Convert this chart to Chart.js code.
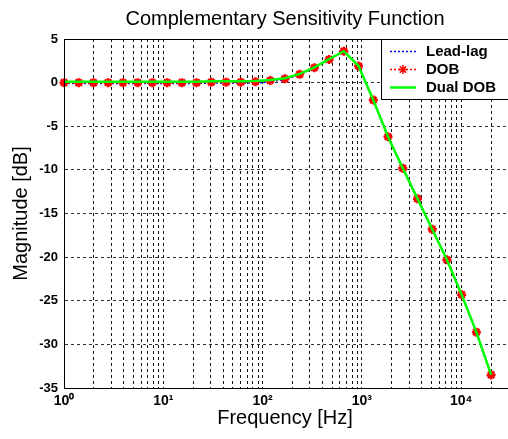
<!DOCTYPE html>
<html>
<head>
<meta charset="utf-8">
<script src="https://cdn.jsdelivr.net/npm/chart.js@4/dist/chart.umd.min.js"></script>
<style>
html, body { margin: 0; padding: 0; background: #fff; overflow: hidden; }
#wrap { width: 508px; height: 439px; overflow: hidden; }
</style>
</head>
<body>
<div id="wrap"><canvas id="tsChart" width="513" height="439"></canvas></div>
<script>
// frequencies [Hz] where the responses were evaluated
var freqs = [1, 1.407, 1.980, 2.786, 3.920, 5.515, 7.760, 10.92, 15.37, 21.62,
    30.42, 42.80, 60.22, 84.73, 119.2, 167.8, 236.1, 332.1, 467.3, 657.5,
    925.1, 1302, 1831, 2577, 3626, 5102, 7178, 10100, 14212, 20000];

// magnitudes [dB]
var leadLag = [-0.1, -0.1, -0.1, -0.1, -0.1, -0.1, -0.1, -0.1, -0.1, -0.1,
    -0.05, -0.05, -0.05, -0.05, 0.1, 0.35, 0.9, 1.7, 2.65, 3.6,
    1.9, -2.0, -6.2, -9.8, -13.3, -16.8, -20.3, -24.3, -28.6, -33.5];
var dob = [0, 0, 0, 0, 0, 0, 0, 0, 0, 0,
    0.05, 0.05, 0.05, 0.1, 0.25, 0.45, 0.95, 1.7, 2.65, 3.6,
    1.9, -2.0, -6.2, -9.8, -13.3, -16.8, -20.3, -24.3, -28.6, -33.5];
var dualDob = [0.1, 0.1, 0.1, 0.1, 0.1, 0.1, 0.1, 0.1, 0.1, 0.1,
    0.15, 0.15, 0.15, 0.2, 0.3, 0.5, 1.0, 1.75, 2.7, 3.6,
    1.9, -2.0, -6.2, -9.8, -13.3, -16.8, -20.3, -24.3, -28.6, -33.5];

var seriesNames = ['Lead-lag', 'DOB', 'Dual DOB'];
var decadeLabels = {1: '10\u2070', 10: '10\u00b9', 100: '10\u00b2', 1000: '10\u00b3', 10000: '10\u2074'};
var yTicks = [5, 0, -5, -10, -15, -20, -25, -30, -35];

function toPoints(values) {
    return values.map(function (v, i) { return { x: freqs[i], y: v }; });
}

// box round the axes + legend in the upper right corner
var frameAndLegend = {
    id: 'frameAndLegend',
    afterDraw: function (chart) {
        var ctx = chart.ctx;
        var a = chart.chartArea;
        ctx.save();
        ctx.strokeStyle = '#000';
        ctx.lineWidth = 1;
        ctx.setLineDash([]);
        ctx.strokeRect(a.left + 0.5, a.top + 0.5, a.right - a.left + 4, a.bottom - a.top);

        var bx = 381, by = a.top, bw = 140, bh = 60;
        ctx.fillStyle = '#fff';
        ctx.fillRect(bx, by, bw, bh);
        ctx.strokeRect(bx + 0.5, by + 0.5, bw, bh);

        var rows = [by + 12, by + 30, by + 48];
        ctx.font = 'bold 15px "Liberation Sans", Arial, sans-serif';
        ctx.textBaseline = 'middle';
        chart.data.datasets.forEach(function (ds, i) {
            var y = rows[i];
            ctx.strokeStyle = ds.borderColor;
            ctx.lineWidth = ds.borderWidth;
            ctx.setLineDash(ds.borderDash || []);
            ctx.beginPath();
            ctx.moveTo(390, y + 0.5);
            ctx.lineTo(416, y + 0.5);
            ctx.stroke();
            ctx.setLineDash([]);
            if (ds.pointRadius > 0) {
                Chart.helpers.drawPoint(ctx, {
                    pointStyle: ds.pointStyle, radius: ds.pointRadius,
                    borderWidth: ds.pointBorderWidth, rotation: 0
                }, 403, y + 0.5);
            }
            ctx.fillStyle = '#000';
            ctx.fillText(ds.label, 426, y + 1);
        });
        ctx.restore();
    }
};

var tsChart = new Chart(document.getElementById('tsChart').getContext('2d'), {
    type: 'line',
    data: {
        datasets: [{
            label: seriesNames[0],
            data: toPoints(leadLag),
            borderColor: '#0000ff',
            borderWidth: 1.5,
            borderDash: [2, 2],
            pointRadius: 0,
            order: 2
        }, {
            label: seriesNames[1],
            data: toPoints(dob),
            borderColor: '#ff0000',
            backgroundColor: '#ff0000',
            borderWidth: 1.5,
            borderDash: [2, 2],
            pointStyle: 'star',
            pointRadius: 4.5,
            pointBorderWidth: 2.5,
            pointBorderColor: '#ff0000',
            clip: false,
            order: 1
        }, {
            label: seriesNames[2],
            data: toPoints(dualDob),
            borderColor: '#00ff00',
            borderWidth: 2.5,
            pointRadius: 0,
            order: 0
        }]
    },
    options: {
        responsive: false,
        animation: false,
        layout: { padding: 0 },
        plugins: {
            legend: { display: false },
            tooltip: { enabled: false },
            title: {
                display: true,
                fullSize: false,
                text: 'Complementary Sensitivity Function',
                color: '#000',
                font: { family: '"Liberation Sans", Arial, sans-serif', size: 20, weight: 'normal' },
                padding: { top: 7, bottom: 8 }
            }
        },
        scales: {
            x: {
                type: 'logarithmic',
                min: 1,
                max: 28250,
                afterFit: function (scale) { scale.height = 51; },
                afterBuildTicks: function (scale) {
                    var t = [];
                    for (var d = 1; d <= 10000; d *= 10) {
                        for (var m = 1; m <= 9; m++) {
                            if (m * d <= scale.max) t.push({ value: m * d });
                        }
                    }
                    scale.ticks = t;
                },
                ticks: {
                    autoSkip: false,
                    maxRotation: 0,
                    padding: 5,
                    color: '#000',
                    font: { family: '"Liberation Sans", Arial, sans-serif', size: 14, weight: 'bold' },
                    callback: function (v) { return decadeLabels[v] || ''; }
                },
                grid: {
                    color: '#111',
                    lineWidth: 1,
                    drawTicks: false
                },
                border: { display: true, color: '#000', dash: [3, 3] },
                title: {
                    display: true,
                    text: 'Frequency [Hz]',
                    color: '#000',
                    font: { family: '"Liberation Sans", Arial, sans-serif', size: 20, weight: 'normal' },
                    padding: { top: 0, bottom: 9 }
                }
            },
            y: {
                min: -35,
                max: 5,
                afterFit: function (scale) { scale.width = 64; },
                afterBuildTicks: function (scale) {
                    scale.ticks = yTicks.map(function (v) { return { value: v }; });
                },
                ticks: {
                    padding: 6,
                    color: '#000',
                    font: { family: '"Liberation Sans", Arial, sans-serif', size: 13, weight: 'bold' },
                    callback: function (v) { return String(v); }
                },
                grid: {
                    color: '#333',
                    lineWidth: 1,
                    drawTicks: false
                },
                border: { display: true, color: '#000', dash: [3, 3] },
                title: {
                    display: true,
                    text: 'Magnitude [dB]',
                    color: '#000',
                    font: { family: '"Liberation Sans", Arial, sans-serif', size: 20, weight: 'normal' },
                    padding: { top: 9, bottom: 0 }
                }
            }
        }
    },
    plugins: [frameAndLegend]
});
</script>
</body>
</html>
